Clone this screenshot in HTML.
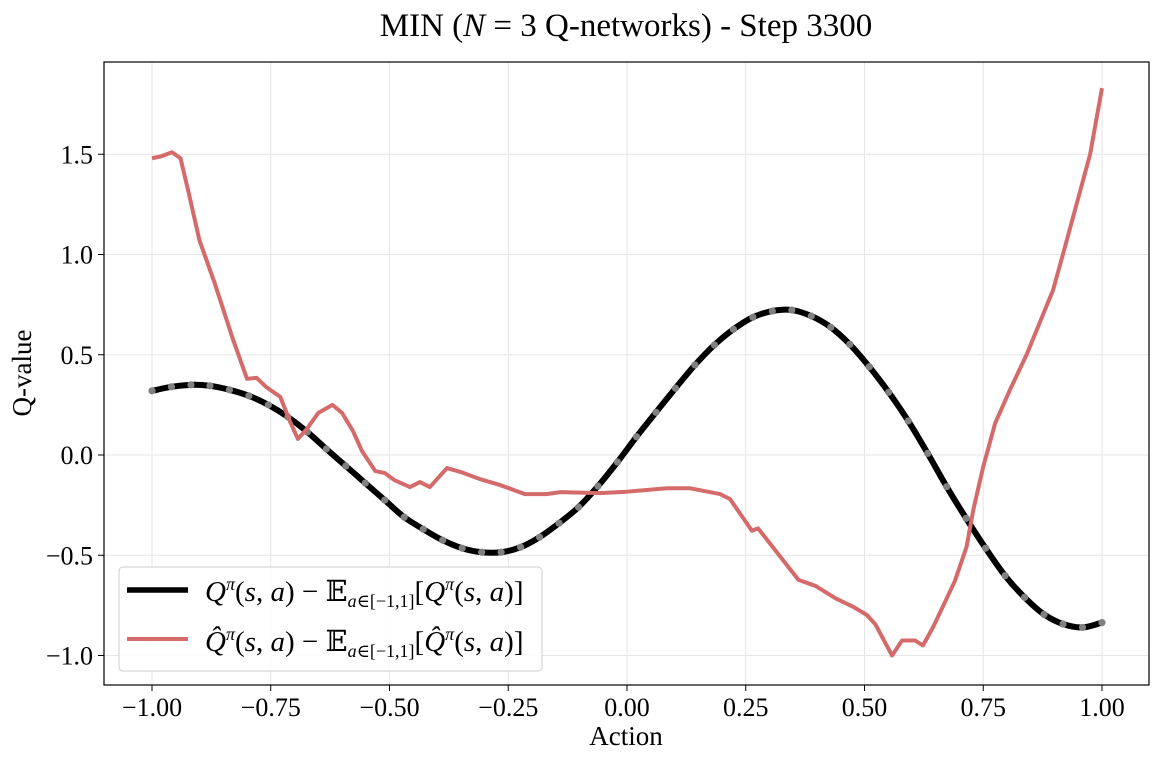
<!DOCTYPE html>
<html><head><meta charset="utf-8"><style>
body{margin:0;background:#fff;}
svg text{font-family:"Liberation Serif","DejaVu Serif",serif;fill:#000;}
</style></head><body>
<svg id="chart" width="1160" height="759" xmlns="http://www.w3.org/2000/svg">
<text x="626" y="36" font-size="33" text-anchor="middle">MIN (<tspan font-style="italic">N</tspan> = 3 Q-networks) - Step 3300</text>
<g id="grid"></g>
<g id="axes"></g>
<g id="series"></g>
<rect x="104" y="62" width="1045" height="623" fill="none" stroke="#000" stroke-width="1.2"/>
<text x="626" y="745" font-size="27" text-anchor="middle">Action</text>
<text transform="translate(31,373) rotate(-90)" font-size="27" text-anchor="middle">Q-value</text>
<g>
<rect x="119" y="567" width="423" height="104" rx="4" fill="#fff" fill-opacity="0.85" stroke="#ccc" stroke-width="1"/>
<line x1="127" y1="590" x2="188" y2="590" stroke="#000" stroke-width="5.5"/>
<text x="205" y="601" font-size="29"><tspan font-style="italic">Q</tspan><tspan font-size="18" dy="-11" font-style="italic">π</tspan><tspan dy="11">(</tspan><tspan font-style="italic">s</tspan>, <tspan font-style="italic">a</tspan>) − 𝔼<tspan font-size="18" dy="6"><tspan font-style="italic">a</tspan>∈[−1,1]</tspan><tspan dy="-6">[</tspan><tspan font-style="italic">Q</tspan><tspan font-size="18" dy="-11" font-style="italic">π</tspan><tspan dy="11">(</tspan><tspan font-style="italic">s</tspan>, <tspan font-style="italic">a</tspan>)]</text>
<line x1="127" y1="639" x2="188" y2="639" stroke="#d46a6a" stroke-width="4"/>
<text x="205" y="651" font-size="29"><tspan font-style="italic">Q̂</tspan><tspan font-size="18" dy="-11" font-style="italic">π</tspan><tspan dy="11">(</tspan><tspan font-style="italic">s</tspan>, <tspan font-style="italic">a</tspan>) − 𝔼<tspan font-size="18" dy="6"><tspan font-style="italic">a</tspan>∈[−1,1]</tspan><tspan dy="-6">[</tspan><tspan font-style="italic">Q̂</tspan><tspan font-size="18" dy="-11" font-style="italic">π</tspan><tspan dy="11">(</tspan><tspan font-style="italic">s</tspan>, <tspan font-style="italic">a</tspan>)]</text>
</g>
</svg>
<script>
const xTicks=[-1,-0.75,-0.5,-0.25,0,0.25,0.5,0.75,1];
const xTickLabels=["−1.00","−0.75","−0.50","−0.25","0.00","0.25","0.50","0.75","1.00"];
const yTicks=[-1,-0.5,0,0.5,1,1.5];
const yTickLabels=["−1.0","−0.5","0.0","0.5","1.0","1.5"];
const trueX=[-1,-0.959,-0.918,-0.878,-0.837,-0.796,-0.755,-0.714,-0.673,-0.633,-0.592,-0.551,-0.510,-0.469,-0.429,-0.388,-0.347,-0.306,-0.265,-0.224,-0.184,-0.143,-0.102,-0.061,-0.020,0.020,0.061,0.102,0.143,0.184,0.224,0.265,0.306,0.347,0.388,0.429,0.469,0.510,0.551,0.592,0.633,0.673,0.714,0.755,0.796,0.837,0.878,0.918,0.959,1];
const trueY=[0.32,0.34,0.35,0.345,0.325,0.295,0.25,0.19,0.115,0.03,-0.055,-0.14,-0.225,-0.31,-0.37,-0.425,-0.465,-0.485,-0.485,-0.46,-0.41,-0.34,-0.26,-0.155,-0.035,0.091,0.213,0.333,0.449,0.549,0.627,0.687,0.718,0.723,0.693,0.637,0.552,0.44,0.313,0.17,0.008,-0.158,-0.316,-0.465,-0.602,-0.71,-0.795,-0.843,-0.86,-0.836];
const estX=[-1,-0.98,-0.958,-0.94,-0.924,-0.9,-0.867,-0.83,-0.8,-0.78,-0.76,-0.73,-0.71,-0.693,-0.674,-0.65,-0.62,-0.6,-0.577,-0.558,-0.53,-0.51,-0.49,-0.457,-0.436,-0.415,-0.379,-0.35,-0.31,-0.267,-0.215,-0.17,-0.14,-0.057,0.0,0.084,0.133,0.196,0.217,0.263,0.276,0.361,0.397,0.439,0.476,0.505,0.523,0.558,0.579,0.606,0.623,0.645,0.69,0.715,0.729,0.75,0.775,0.806,0.841,0.897,0.92,0.975,1];
const estY=[1.48,1.49,1.51,1.48,1.32,1.07,0.85,0.58,0.38,0.385,0.34,0.29,0.17,0.08,0.13,0.21,0.25,0.21,0.12,0.02,-0.08,-0.09,-0.125,-0.16,-0.135,-0.16,-0.065,-0.085,-0.12,-0.15,-0.195,-0.195,-0.185,-0.19,-0.183,-0.166,-0.166,-0.195,-0.22,-0.378,-0.366,-0.623,-0.653,-0.715,-0.757,-0.798,-0.845,-1.0,-0.925,-0.925,-0.95,-0.856,-0.63,-0.457,-0.274,-0.058,0.158,0.324,0.499,0.823,1.02,1.50,1.83];

const NS="http://www.w3.org/2000/svg";
const X=v=>152+(v+1)*475;
const Y=v=>455-v*200.5;
function mk(tag,attrs,parent){const e=document.createElementNS(NS,tag);for(const k in attrs)e.setAttribute(k,attrs[k]);parent.appendChild(e);return e;}
const grid=document.getElementById('grid'),axes=document.getElementById('axes'),series=document.getElementById('series');
xTicks.forEach((t,i)=>{
  const g=mk('line',{x1:X(t),x2:X(t),y1:62,y2:685,stroke:'#e6e6e6','stroke-width':1},grid);
  
  
  const tk=mk('line',{x1:X(t),x2:X(t),y1:685,y2:691,stroke:'#000','stroke-width':1},axes);
  
  
  const tx=mk('text',{x:X(t),y:716,'font-size':26,'text-anchor':'middle'},axes);
  tx.textContent=xTickLabels[i];
  
  
});
yTicks.forEach((t,i)=>{
  const g=mk('line',{x1:104,x2:1149,y1:Y(t),y2:Y(t),stroke:'#e6e6e6','stroke-width':1},grid);
  
  
  const tk=mk('line',{x1:98,x2:104,y1:Y(t),y2:Y(t),stroke:'#000','stroke-width':1},axes);
  
  
  const tx=mk('text',{x:93,y:Y(t)+9,'font-size':26,'text-anchor':'end'},axes);
  tx.textContent=yTickLabels[i];
  
  
});
function smooth(xs,ys){
  const p=xs.map((x,i)=>[X(x),Y(ys[i])]);
  let d=`M${p[0][0]},${p[0][1]}`;
  for(let i=0;i<p.length-1;i++){
    const p0=p[Math.max(0,i-1)],p1=p[i],p2=p[i+1],p3=p[Math.min(p.length-1,i+2)];
    d+=` C${p1[0]+(p2[0]-p0[0])/6},${p1[1]+(p2[1]-p0[1])/6} ${p2[0]-(p3[0]-p1[0])/6},${p2[1]-(p3[1]-p1[1])/6} ${p2[0]},${p2[1]}`;
  }
  return d;
}
const tl=mk('path',{d:smooth(trueX,trueY),fill:'none',stroke:'#000','stroke-width':6,'stroke-linejoin':'round'},series);


trueX.forEach((x,i)=>{
  const c=mk('circle',{cx:X(x),cy:Y(trueY[i]),r:3.6,fill:'#808080'},series);
  
  
});
const el=mk('polyline',{points:estX.map((x,i)=>X(x)+','+Y(estY[i])).join(' '),fill:'none',stroke:'#d46a6a','stroke-width':4,'stroke-linejoin':'round'},series);


</script>
</body></html>
